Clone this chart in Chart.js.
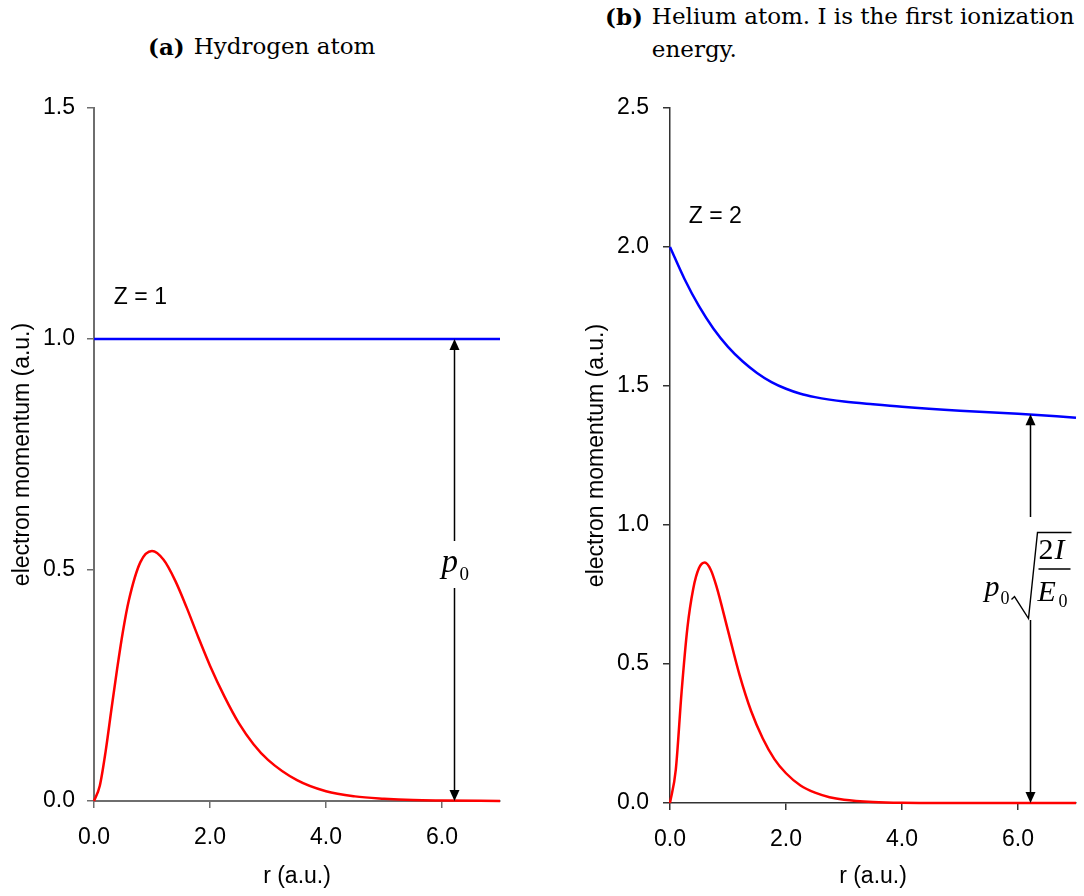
<!DOCTYPE html>
<html>
<head>
<meta charset="utf-8">
<script src="https://cdn.jsdelivr.net/npm/chart.js@4/dist/chart.umd.min.js"></script>
<style>
  body { margin: 0; background: #fff; width: 1084px; height: 896px; position: relative; overflow: hidden; }
  .panel { position: absolute; top: 0; }
  .cap { position: absolute; font-family: 'DejaVu Serif', serif; font-size: 23px; color: #000; white-space: nowrap; display: flex; line-height: 33px; }
  .cap b { margin-right: 9px; }
</style>
</head>
<body>
<div class="cap" style="left:148px; top:30px;"><b>(a)</b><span>Hydrogen atom</span></div>
<div class="cap" style="left:605px; top:0px;"><b>(b)</b><span>Helium atom. I is the first ionization<br>energy.</span></div>
<div class="panel" style="left:0px;"><canvas id="chartH" width="540" height="896"></canvas></div>
<div class="panel" style="left:560px;"><canvas id="chartHe" width="524" height="896"></canvas></div>
<script>
// hydrogen (Z = 1)
var rLineH = [0, 7];
var momentumH = [1.0, 1.0];
var rDensH = [0, 0.1, 0.2, 0.3, 0.4, 0.5, 0.6, 0.8, 1.0, 1.2, 1.4, 1.6, 1.8, 2.0, 2.25, 2.5, 2.75, 3.0, 3.5, 4.0, 4.5, 5.0, 5.5, 6.0, 7.0];
var densityH = [0, 0.033, 0.107, 0.198, 0.287, 0.368, 0.434, 0.517, 0.541, 0.522, 0.477, 0.418, 0.354, 0.293, 0.226, 0.168, 0.123, 0.089, 0.045, 0.021, 0.010, 0.005, 0.002, 0.001, 0];
var yTicksH = [0, 0.5, 1.0, 1.5];

// helium (Z = 2)
var rMomHe = [0, 0.25, 0.5, 0.75, 1.0, 1.25, 1.5, 1.75, 2.0, 2.25, 2.5, 2.75, 3.0, 3.5, 4.0, 5.0, 6.0, 7.0];
var momentumHe = [2.0, 1.885, 1.787, 1.706, 1.641, 1.589, 1.547, 1.514, 1.490, 1.472, 1.460, 1.451, 1.444, 1.434, 1.425, 1.411, 1.40, 1.386];
var rDensHe = [0, 0.1, 0.2, 0.3, 0.4, 0.5, 0.6, 0.7, 0.8, 1.0, 1.2, 1.4, 1.6, 1.8, 2.0, 2.25, 2.5, 2.75, 3.0, 3.5, 4.0, 5.0, 6.0, 7.0];
var densityHe = [0, 0.12, 0.40, 0.63, 0.77, 0.845, 0.865, 0.84, 0.78, 0.62, 0.46, 0.33, 0.232, 0.158, 0.107, 0.063, 0.037, 0.021, 0.012, 0.004, 0.001, 0, 0, 0];
var yTicksHe = [0, 0.5, 1.0, 1.5, 2.0, 2.5];

var xTicks = [0, 2, 4, 6];

var SANS = '"Liberation Sans", Arial, sans-serif';

function pts(xs, ys) {
  return xs.map(function(v, i) { return {x: v, y: ys[i]}; });
}

function serif(size, italic) {
  return (italic ? 'italic ' : '') + size + 'px "Liberation Serif", "Times New Roman", serif';
}

function arrowHead(ctx, x, y, dir) {
  ctx.beginPath();
  ctx.moveTo(x, y);
  ctx.lineTo(x - 5, y - dir * 11);
  ctx.lineTo(x + 5, y - dir * 11);
  ctx.closePath();
  ctx.fill();
}

// Z label, double arrow and the momentum label
var annotate = {
  id: 'annotate',
  afterDatasetsDraw: function(chart, args, o) {
    var ctx = chart.ctx, x = chart.scales.x, y = chart.scales.y;
    ctx.save();
    ctx.fillStyle = '#000';
    ctx.strokeStyle = '#000';
    ctx.font = '23px ' + SANS;
    ctx.textAlign = 'center';
    ctx.textBaseline = 'middle';
    ctx.fillText(o.zText, x.getPixelForValue(o.zAt[0]), y.getPixelForValue(o.zAt[1]));

    var ax = Math.round(x.getPixelForValue(o.arrowX)) + 0.5;
    var top = y.getPixelForValue(o.arrowTop), bot = y.getPixelForValue(0);
    var g1 = y.getPixelForValue(o.gap[1]), g0 = y.getPixelForValue(o.gap[0]);
    ctx.lineWidth = 1.5;
    ctx.beginPath();
    ctx.moveTo(ax, top + 8); ctx.lineTo(ax, g1);
    ctx.moveTo(ax, g0); ctx.lineTo(ax, bot - 8);
    ctx.stroke();
    arrowHead(ctx, ax, top, -1);
    arrowHead(ctx, ax, bot, 1);

    var cy = (g0 + g1) / 2;
    ctx.textAlign = 'left';
    ctx.textBaseline = 'alphabetic';
    if (o.label === 'p0') {
      ctx.font = serif(33, true);
      ctx.fillText('p', ax - 13, cy + 8);
      ctx.font = serif(19, false);
      ctx.fillText('0', ax + 5, cy + 16);
    } else {
      ctx.font = serif(30, true);
      ctx.fillText('p', ax - 46, cy + 27);
      ctx.font = serif(18, false);
      ctx.fillText('0', ax - 30, cy + 35);
      // radical sign
      ctx.lineWidth = 1.4;
      ctx.beginPath();
      ctx.moveTo(ax - 19, cy + 31);
      ctx.lineTo(ax - 16, cy + 28);
      ctx.lineTo(ax - 2, cy + 50);
      ctx.lineTo(ax + 7, cy - 36);
      ctx.lineTo(ax + 41, cy - 36);
      ctx.stroke();
      // fraction 2I / E0
      ctx.font = serif(30, false);
      ctx.fillText('2', ax + 8, cy - 10);
      ctx.font = serif(30, true);
      ctx.fillText('I', ax + 24, cy - 10);
      ctx.lineWidth = 1.4;
      ctx.beginPath();
      ctx.moveTo(ax + 8, cy + 0.5); ctx.lineTo(ax + 40, cy + 0.5);
      ctx.stroke();
      ctx.font = serif(30, true);
      ctx.fillText('E', ax + 7, cy + 32);
      ctx.font = serif(18, false);
      ctx.fillText('0', ax + 28, cy + 38);
    }
    ctx.restore();
  }
};

function axisOpts(axisColor, width, tickPad, title, titlePad, fitSize, horizontal) {
  var o = {
    type: 'linear',
    border: {display: true, color: axisColor, width: width},
    grid: {display: true, drawOnChartArea: false, drawTicks: true, tickLength: 7, color: axisColor, lineWidth: 1.5},
    ticks: {
      padding: tickPad,
      color: '#000',
      font: {family: SANS, size: 23},
      callback: function(v) { return Number(v).toFixed(1); }
    },
    title: {display: true, text: title, color: '#000', padding: titlePad,
            font: {family: SANS, size: 23}}
  };
  if (horizontal) {
    o.afterFit = function(s) { s.height = fitSize; };
  } else {
    o.afterFit = function(s) { s.width = fitSize; };
  }
  return o;
}

function makeChart(id, cfg) {
  var xs = axisOpts(cfg.axisColor, cfg.axisWidth, 16, 'r (a.u.)', {top: 0, bottom: 6}, cfg.xFit, true);
  xs.min = 0; xs.max = 7;
  xs.afterBuildTicks = function(s) { s.ticks = xTicks.map(function(v) { return {value: v}; }); };
  var ys = axisOpts(cfg.axisColor, cfg.axisWidth, cfg.yPad, 'electron momentum (a.u.)', {top: cfg.yTitlePad, bottom: 0}, cfg.yFit, false);
  ys.min = 0; ys.max = cfg.yMax;
  ys.afterBuildTicks = function(s) { s.ticks = cfg.yTicks.map(function(v) { return {value: v}; }); };

  return new Chart(document.getElementById(id), {
    type: 'line',
    data: {
      datasets: [
        {data: cfg.mom, borderColor: '#0000ff', borderWidth: 2.5, pointRadius: 0, cubicInterpolationMode: 'monotone', clip: 4},
        {data: cfg.dens, borderColor: '#ff0000', borderWidth: 2.5, pointRadius: 0, cubicInterpolationMode: 'monotone', clip: 4}
      ]
    },
    options: {
      responsive: false,
      animation: false,
      layout: {padding: cfg.pad},
      plugins: {
        legend: {display: false},
        tooltip: {enabled: false},
        annotate: cfg.notes
      },
      scales: {x: xs, y: ys}
    },
    plugins: [annotate]
  });
}

makeChart('chartH', {
  mom: pts(rLineH, momentumH),
  dens: pts(rDensH, densityH),
  yMax: 1.5, yTicks: yTicksH,
  axisColor: '#6e6e6e', axisWidth: 2,
  yPad: 12, yTitlePad: 9, yFit: 94, xFit: 95,
  pad: {top: 108, right: 40, left: 0, bottom: 0},
  notes: {zText: 'Z = 1', zAt: [0.8, 1.09], arrowX: 6.2, arrowTop: 1.0, gap: [0.461, 0.563], label: 'p0'}
});

makeChart('chartHe', {
  mom: pts(rMomHe, momentumHe),
  dens: pts(rDensHe, densityHe),
  yMax: 2.5, yTicks: yTicksHe,
  axisColor: '#333333', axisWidth: 1.5,
  yPad: 14, yTitlePad: 23, yFit: 110, xFit: 93,
  pad: {top: 108, right: 8, left: 0, bottom: 0},
  notes: {zText: 'Z = 2', zAt: [0.78, 2.11], arrowX: 6.2, arrowTop: 1.398, gap: [0.658, 1.029], label: 'sqrt'}
});
</script>
</body>
</html>
